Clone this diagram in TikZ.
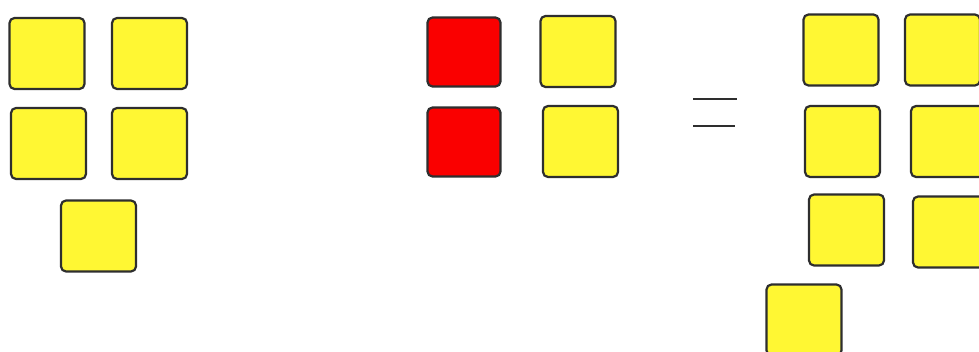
\documentclass[tikz,border=0pt]{standalone}
\usepackage{tikz}
\usetikzlibrary{positioning}
\definecolor{tileyellow}{HTML}{FFF733}
\definecolor{tilered}{HTML}{FA0000}
\definecolor{tileedge}{HTML}{2E2E2E}

\tikzset{
  tile/.style={draw=tileedge, line width=2.2pt, fill=tileyellow, rounded corners=5pt,
    minimum width=75pt, minimum height=71pt, inner sep=0pt, outer sep=0pt},
  redtile/.style={tile, fill=tilered},
  eqbar/.style={draw=tileedge, line width=2.2pt}
}

\begin{document}
\begin{tikzpicture}[x=1pt, y=-1pt]
\useasboundingbox (0,0) rectangle (979,352);
\clip (0,0) rectangle (979,352);

% left group: five yellow tiles
\node[tile] (l1) at (47,53.5) {};
\node[tile] (l2) at (149.5,53.5) {};
\node[tile] (l3) at (48.5,143.5) {};
\node[tile] (l4) at (149.5,143.5) {};
\node[tile] (l5) at (98.5,236) {};

% middle group: two red, two yellow
\node[redtile, minimum width=73pt, minimum height=69pt] (m1) at (464,52) {};
\node[tile] (m2) at (578,51.5) {};
\node[redtile, minimum width=73pt, minimum height=69pt] (m3) at (464,142) {};
\node[tile] (m4) at (580.5,141.5) {};

% equals sign
\coordinate (eqa) at (693,99);
\coordinate (eqb) at (737,99);
\coordinate (eqc) at (693,126);
\coordinate (eqd) at (735,126);
\draw[eqbar] (eqa) -- (eqb);
\draw[eqbar] (eqc) -- (eqd);

% right group: seven yellow tiles
\node[tile] (r1) at (841,50) {};
\node[tile] (r2) at (942.5,50) {};
\node[tile] (r3) at (842.5,141.5) {};
\node[tile] (r4) at (948.5,141.5) {};
\node[tile] (r5) at (846.5,230) {};
\node[tile] (r6) at (950.5,232) {};
\node[tile] (r7) at (804,320) {};
\end{tikzpicture}
\end{document}
